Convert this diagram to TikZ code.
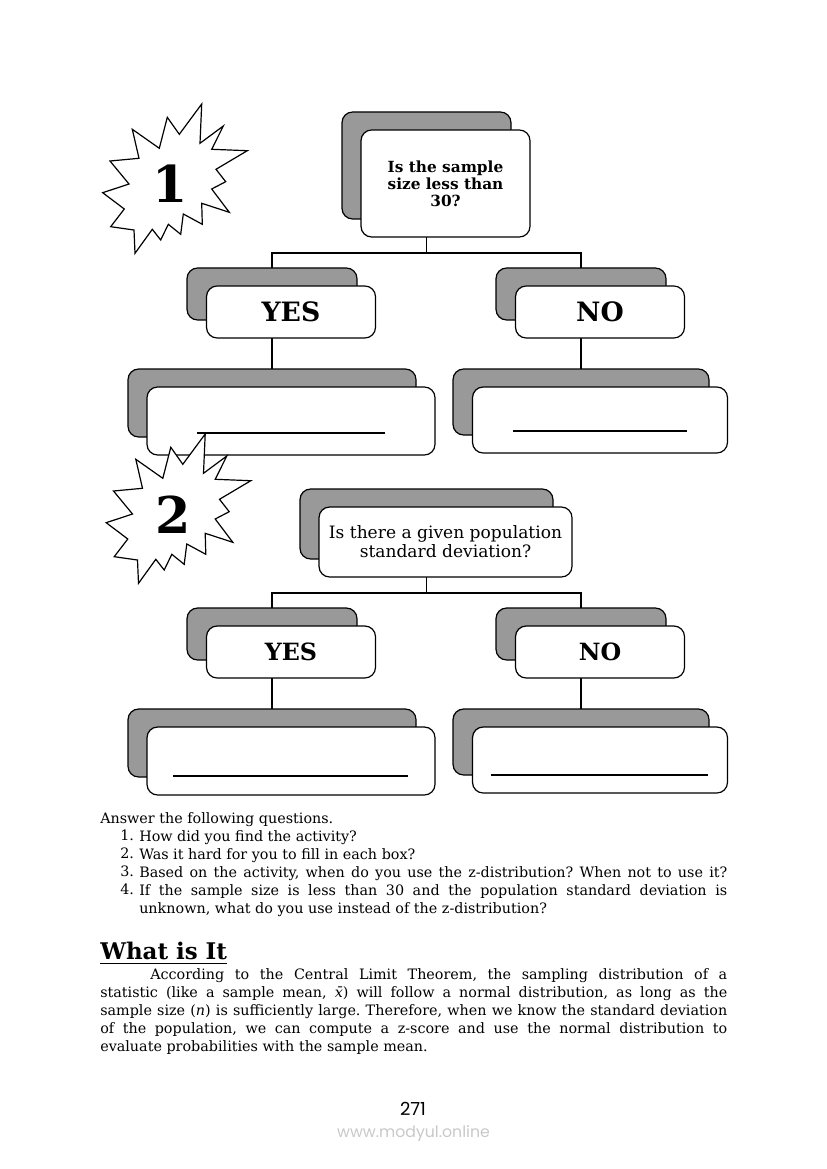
\documentclass[tikz,border=0pt]{standalone}
\usepackage{fontspec}
\usepackage{amsmath}
\usetikzlibrary{calc}
\setmainfont{DejaVu Serif}
\newfontfamily\pagefont{Poppins}
\definecolor{shadowgray}{RGB}{153,153,153}
\definecolor{markgray}{RGB}{200,200,200}
\newcommand{\bodyfont}{\fontsize{10.75}{13.5}\selectfont}
\newcommand{\qfont}{\fontsize{11.5}{12.75}\selectfont\bfseries}
\newcommand{\qtwofont}{\fontsize{12.8}{14.25}\selectfont}
\newcommand{\yesbig}{\fontsize{20}{22}\selectfont\bfseries}
\newcommand{\yessmall}{\fontsize{17.8}{20}\selectfont\bfseries}
\frenchspacing
\tikzset{
	backbox/.style={draw,line width=0.9pt,fill=shadowgray,rounded corners=8pt,inner sep=0pt,outer sep=0pt},
	frontbox/.style={draw,line width=0.9pt,fill=white,rounded corners=8pt,inner sep=0pt,outer sep=0pt,align=center},
	treeline/.style={line width=1pt},
	blankline/.style={line width=0.9pt},
	bodytext/.style={anchor=north west,inner sep=0pt,font=\bodyfont,align=justify},
	burstnum/.style={inner sep=0pt,font=\fontsize{38}{38}\selectfont\bfseries},
	burst/.pic={
		\draw[line width=0.9pt,fill=white,line join=miter] (201.7,104)--(200,143.3)--(223.3,126)--(211.7,149.3)--(247.3,150.7)--(216,169.3)
		--(225.7,181.7)--(211.7,189)--(229.3,212.3)--(201.7,203.3)--(202.3,224.3)--(183.3,214)--(180.7,234.3)
		--(168.3,224.3)--(160.7,240)--(152.3,229.3)--(135,253.3)--(134,230)--(110.7,226.7)--(124.3,209)
		--(102.7,192.7)--(129,184)--(110,161)--(139,158.3)--(132.3,129.3)--(159.3,148.3)--(167.3,117.3)--(179.3,134.3)--cycle;
	}
}
\begin{document}
\begin{tikzpicture}[x=0.75pt,y=-0.75pt]
	\useasboundingbox (0,0) rectangle (826,1169);
	\foreach \nm/\cx/\cy/\w/\h in {qone/426.5/165.5/169/107,yesone/272/294/170/52,noone/581/294/170/52,
		ansa/272/403/288/68,ansb/581/402/256/66,qtwo/426.5/524/253/70,yestwo/272/634/170/52,notwo/581/634/170/52,
		ansc/272/743/288/68,ansd/581/742/256/66}{
		\node[backbox,minimum width=\w*0.75pt,minimum height=\h*0.75pt] (\nm back) at (\cx,\cy) {};
	}
	% tree lines
	\coordinate (onejoin) at (426.5,253);
	\coordinate (twojoin) at (426.5,593);
	\draw[treeline] (qoneback.south) -- (onejoin);
	\draw[treeline] (yesoneback.north) |- (nooneback.north |- onejoin) -- (nooneback.north);
	\draw[treeline] (yesoneback.south) -- (ansaback.north);
	\draw[treeline] (nooneback.south) -- (ansbback.north);
	\draw[treeline] (qtwoback.south) -- (twojoin);
	\draw[treeline] (yestwoback.north) |- (notwoback.north |- twojoin) -- (notwoback.north);
	\draw[treeline] (yestwoback.south) -- (anscback.north);
	\draw[treeline] (notwoback.south) -- (ansdback.north);
	\foreach \nm/\w/\h/\fnt/\txt in {qone/169/107/\qfont/{Is the sample\\size less than\\30?},yesone/169/52/\yesbig/{YES},noone/169/52/\yesbig/{NO},
		ansa/288/68/\bodyfont/{},ansb/255/66/\bodyfont/{},qtwo/253/70/\qtwofont/{Is there a given population\\standard deviation?},
		yestwo/169/52/\yessmall/{YES},notwo/169/52/\yessmall/{NO},ansc/288/68/\bodyfont/{},ansd/255/66/\bodyfont/{}}{
		\node[frontbox,font=\fnt,minimum width=\w*0.75pt,minimum height=\h*0.75pt] (\nm front) at ($(\nm back)+(19,18)$) {\txt};
	}
	\foreach \xa/\xb/\yy in {197/385/433,513/687/431,173/408/776,491/708/775}{
		\draw[blankline] (\xa,\yy) -- (\xb,\yy);
	}
	\pic at (0,0) {burst};
	\pic at (3.5,330) {burst};
	\node[burstnum] (numone) at (170,184) {1};
	\node[burstnum] (numtwo) at (173,515) {2};
	% text below the boxes
	\node[bodytext,align=left] (intro) at (100,812) {Answer the following questions.};
	\foreach \nm/\yy/\num/\txt in {itema/830/1./{How did you find the activity?},itemb/848/2./{Was it hard for you to fill in each box?},
		itemc/866/3./{Based on the activity, when do you use the z-distribution? When not to use it?\linebreak},
		itemd/884/4./{If the sample size is less than 30 and the population standard deviation is\linebreak unknown, what do you use instead of the z-distribution?}}{
		\node[bodytext,text width=588*0.75pt] (\nm) at (139,\yy) {\txt};
		\node[bodytext,align=left] (\nm num) at (120,\yy) {\num};
	}
	\node[anchor=west,inner sep=0pt,font=\fontsize{17.2}{20}\selectfont\bfseries] (heading) at (100,951) {What is It};
	\draw[line width=1.1pt] (100,963.5) -- (227,963.5);
	\node[bodytext,text width=627*0.75pt] (para) at (100,968) {\hspace*{37.5pt}According to the Central Limit Theorem, the sampling distribution of a\linebreak
		statistic (like a sample mean, \textit{\=x}) will follow a normal distribution, as long as the\linebreak
		sample size (\textit{n}) is sufficiently large. Therefore, when we know the standard deviation\linebreak
		of the population, we can compute a z-score and use the normal distribution to\linebreak
		evaluate probabilities with the sample mean.};
	\node[inner sep=0pt,font=\pagefont\fontsize{13.5}{15}\selectfont] (pagenum) at (413,1109) {271};
	\node[inner sep=0pt,text=markgray,font=\pagefont\fontsize{11.8}{14}\selectfont] (mark) at (413.5,1134) {www.modyul.online};
\end{tikzpicture}
\end{document}
